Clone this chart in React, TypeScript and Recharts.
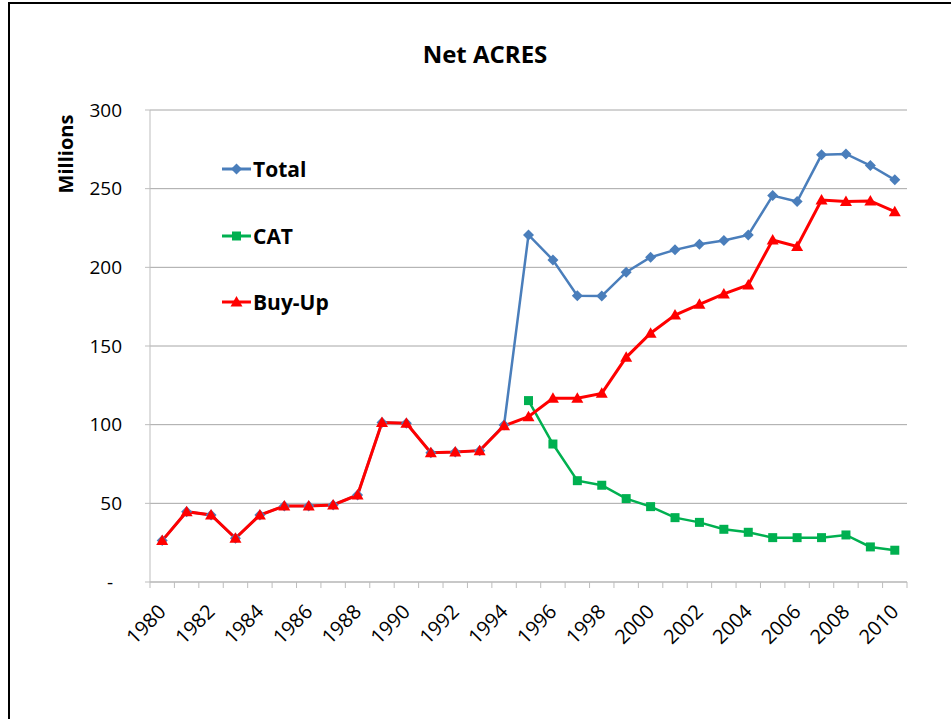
import { LineChart, Line, XAxis, YAxis, CartesianGrid, Legend } from "recharts"

const YEARS = [
  "1980", "1981", "1982", "1983", "1984", "1985", "1986", "1987", "1988", "1989",
  "1990", "1991", "1992", "1993", "1994", "1995", "1996", "1997", "1998", "1999",
  "2000", "2001", "2002", "2003", "2004", "2005", "2006", "2007", "2008", "2009", "2010",
]

const TOTAL = [
  26.3, 44.7, 42.6, 27.8, 42.6, 48.3, 48.3, 49, 55.3, 101.3,
  100.9, 82.2, 82.6, 83.5, 99.8, 220.6, 204.7, 182, 181.8, 196.9,
  206.4, 211.1, 214.7, 217, 220.6, 245.6, 241.8, 271.5, 272.1, 264.7, 255.6,
]

const CAT: (number | null)[] = [
  null, null, null, null, null, null, null, null, null, null,
  null, null, null, null, null, 115.3, 87.7, 64.4, 61.5, 53,
  47.9, 40.9, 37.9, 33.5, 31.6, 28.2, 28.2, 28.2, 29.9, 22.3, 20.2,
]

const BUY_UP = [
  26.3, 44.7, 42.6, 27.8, 42.6, 48.3, 48.3, 49, 55.3, 101.3,
  100.9, 82.2, 82.6, 83.5, 99.3, 105.1, 116.8, 116.8, 119.9, 142.8,
  158.1, 169.7, 176.5, 183.1, 188.8, 217.4, 213.2, 242.8, 241.8, 242.2, 235.4,
]

const Y_TICKS = [0, 50, 100, 150, 200, 250, 300]
const LEGEND_ORDER = ["total", "cat", "buyUp"]

const data = YEARS.map((year, i) => ({
  year,
  total: TOTAL[i],
  cat: CAT[i],
  buyUp: BUY_UP[i],
}))

const FONT = "'Open Sans', 'Liberation Sans', sans-serif"
const AXIS = "#bdbdbd"
const GRID = "#a6a6a6"
const BLUE = "#4a7ebb"
const GREEN = "#00b050"
const RED = "#ff0000"

function markerPath(kind: string, cx: number, cy: number) {
  if (kind === "diamond") return `M${cx},${cy - 5.5}L${cx + 5.5},${cy}L${cx},${cy + 5.5}L${cx - 5.5},${cy}Z`
  if (kind === "square") return `M${cx - 4.5},${cy - 4.5}h9v9h-9Z`
  return `M${cx},${cy - 6}L${cx + 6},${cy + 4.5}L${cx - 6},${cy + 4.5}Z`
}

function makeDot(kind: string, color: string) {
  // eslint-disable-next-line @typescript-eslint/no-explicit-any
  return (props: any) => {
    const { cx, cy, index } = props
    if (cx == null || cy == null || props.value == null) return <g key={`d-${kind}-${index}`} />
    return <path key={`d-${kind}-${index}`} d={markerPath(kind, cx, cy)} fill={color} />
  }
}

const SHAPES: Record<string, { kind: string; color: string }> = {
  total: { kind: "diamond", color: BLUE },
  cat: { kind: "square", color: GREEN },
  buyUp: { kind: "triangle", color: RED },
}

// eslint-disable-next-line @typescript-eslint/no-explicit-any
function LegendBox({ payload }: any) {
  // eslint-disable-next-line @typescript-eslint/no-explicit-any
  const items = [...(payload ?? [])].sort(
    (a: any, b: any) => LEGEND_ORDER.indexOf(a.dataKey) - LEGEND_ORDER.indexOf(b.dataKey)
  )
  return (
    <div>
      {items.map((item: any) => {
        const s = SHAPES[item.dataKey] ?? { kind: "diamond", color: item.color }
        return (
          <div key={item.value} style={{ display: "flex", alignItems: "center", height: 66.5 }}>
            <svg width={30} height={20}>
              <line x1={0} x2={29} y1={10} y2={10} stroke={s.color} strokeWidth={3} />
              <path d={markerPath(s.kind, 14.5, 10)} fill={s.color} />
            </svg>
            <span style={{ fontFamily: FONT, fontWeight: 700, fontSize: 21, color: "#000", marginLeft: 1 }}>
              {item.value}
            </span>
          </div>
        )
      })}
    </div>
  )
}

// eslint-disable-next-line @typescript-eslint/no-explicit-any
function YearTick(props: any) {
  const { x, y, payload, index, visibleTicksCount } = props
  const half = payload.offset ?? 12.2
  const axisY = y - 6
  return (
    <g>
      <line x1={x - half} x2={x - half} y1={axisY} y2={axisY + 6} stroke={AXIS} />
      {index === visibleTicksCount - 1 && (
        <line x1={x + half} x2={x + half} y1={axisY} y2={axisY + 6} stroke={AXIS} />
      )}
      {index % 2 === 0 && (
        <text
          transform={`translate(${x + 5},${y + 25}) rotate(-45)`}
          textAnchor="end"
          fontSize={20}
          fontFamily={FONT}
          fill="#000"
        >
          {payload.value}
        </text>
      )}
    </g>
  )
}

// eslint-disable-next-line @typescript-eslint/no-explicit-any
function ValueTick(props: any) {
  const { x, y, payload } = props
  const zero = payload.value === 0
  return (
    <text x={zero ? x - 9 : x} y={y} dy="0.35em" textAnchor="end" fontSize={19} fontFamily={FONT} fill="#000">
      {zero ? "-" : payload.value}
    </text>
  )
}

export default function App() {
  return (
    <div style={{ position: "relative", width: 951, height: 719, overflow: "hidden", background: "#fff" }}>
      <style>{`body{margin:0;overflow:hidden}`}</style>
      <div
        style={{
          position: "absolute",
          left: 8,
          top: 2,
          width: 1000,
          height: 1000,
          borderTop: "2px solid #000",
          borderLeft: "2px solid #000",
        }}
      />
      <div
        style={{
          position: "absolute",
          left: 0,
          width: 970,
          top: 37,
          textAlign: "center",
          fontFamily: FONT,
          fontWeight: 700,
          fontSize: 24,
          color: "#000",
        }}
      >
        Net ACRES
      </div>
      <div
        style={{
          position: "absolute",
          left: 65,
          top: 154,
          transform: "translate(-50%, -50%) rotate(-90deg)",
          fontFamily: FONT,
          fontWeight: 700,
          fontSize: 20,
          color: "#000",
          whiteSpace: "nowrap",
        }}
      >
        Millions
      </div>
      <LineChart
        width={951}
        height={719}
        data={data}
        margin={{ top: 110, right: 44, bottom: 57, left: 90 }}
        style={{ position: "absolute", left: 0, top: 0 }}
      >
        <CartesianGrid horizontal vertical={false} stroke={GRID} />
        <XAxis
          dataKey="year"
          scale="band"
          interval={0}
          height={80}
          tickLine={false}
          tickSize={6}
          tickMargin={0}
          axisLine={{ stroke: AXIS }}
          tick={<YearTick />}
        />
        <YAxis
          domain={[0, 300]}
          ticks={Y_TICKS}
          width={60}
          tickSize={5}
          tickMargin={23}
          axisLine={{ stroke: AXIS }}
          tickLine={{ stroke: AXIS }}
          tick={<ValueTick />}
        />
        <Legend
          layout="vertical"
          align="center"
          verticalAlign="middle"
          content={<LegendBox />}
          wrapperStyle={{ position: "absolute", left: 222, top: 136, width: 200 }}
        />
        <Line
          dataKey="total"
          name="Total"
          stroke={BLUE}
          strokeWidth={2.5}
          dot={makeDot("diamond", BLUE)}
          isAnimationActive={false}
        />
        <Line
          dataKey="cat"
          name="CAT"
          stroke={GREEN}
          strokeWidth={2.5}
          dot={makeDot("square", GREEN)}
          isAnimationActive={false}
        />
        <Line
          dataKey="buyUp"
          name="Buy-Up"
          stroke={RED}
          strokeWidth={3}
          dot={makeDot("triangle", RED)}
          isAnimationActive={false}
        />
      </LineChart>
    </div>
  )
}
